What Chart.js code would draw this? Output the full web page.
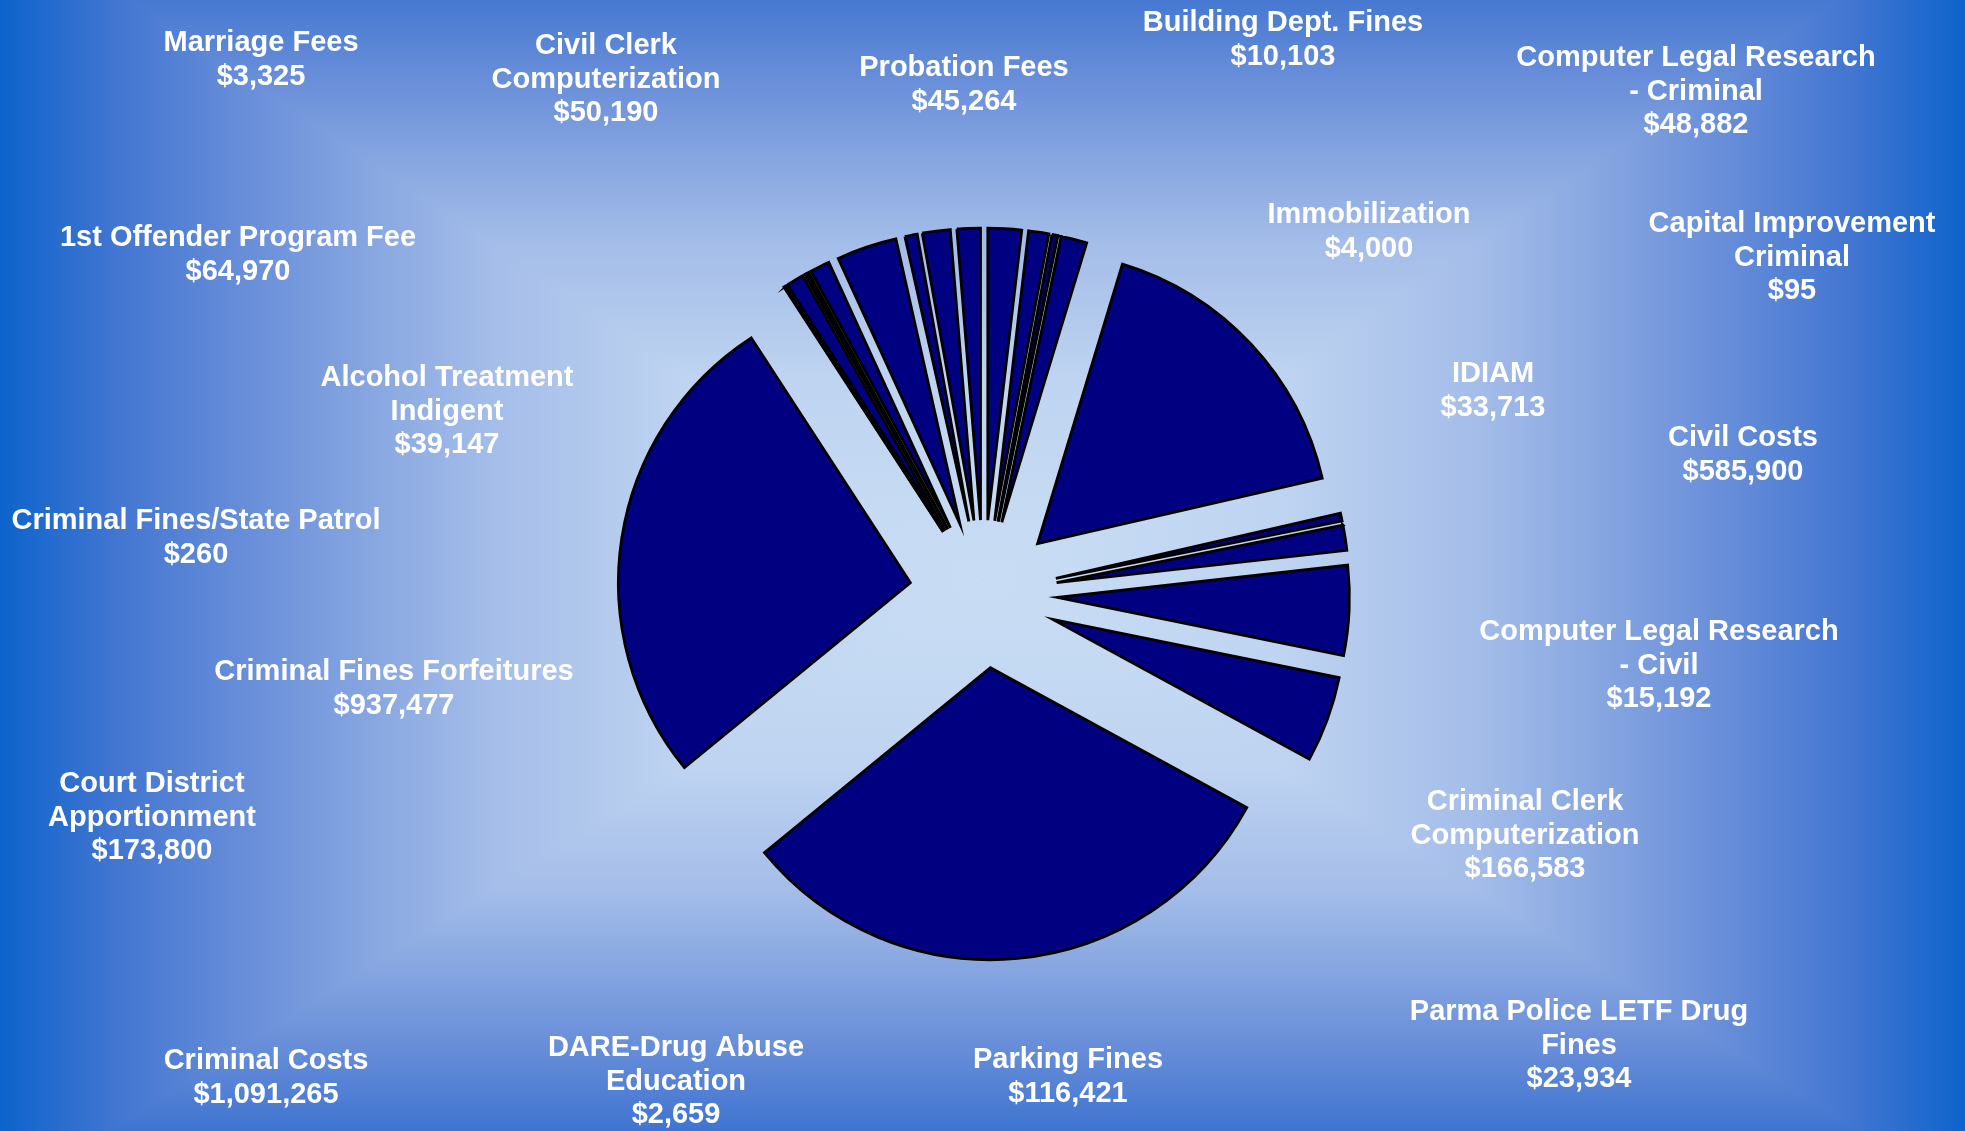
<!DOCTYPE html>
<html>
<head>
<meta charset="utf-8">
<title>Court Revenue by Fund</title>
<script src="https://cdn.jsdelivr.net/npm/chart.js@4.4.1/dist/chart.umd.min.js"></script>
<style>
  html, body { margin: 0; padding: 0; overflow: hidden; background: #1565cc; }
  #wrap { position: relative; width: 1965px; height: 1131px; }
</style>
</head>
<body>
<div id="wrap"><canvas id="revenuePie" width="1965" height="1131"></canvas></div>
<script>
// slice order as it runs clockwise from 12 o'clock
const categories = [
  '1st Offender Program Fee', 'Alcohol Treatment Indigent', 'Building Dept. Fines',
  'Capital Improvement Criminal', 'Civil Clerk Computerization', 'Civil Costs',
  'Computer Legal Research - Civil', 'Computer Legal Research - Criminal',
  'Court District Apportionment', 'Criminal Clerk Computerization', 'Criminal Costs',
  'Criminal Fines Forfeitures', 'Criminal Fines/State Patrol', 'DARE-Drug Abuse Education',
  'IDIAM', 'Immobilization', 'Marriage Fees', '', 'Parking Fines',
  'Parma Police LETF Drug Fines', '', 'Probation Fees'
];
const amounts = [
  64970, 39147, 10103,
  95, 50190, 585900,
  15192, 48882,
  173800, 166583, 1091265,
  937477, 260, 2659,
  33713, 4000, 3325, 38000, 116421,
  23934, 54000, 45264
];
// how each floating label wraps (null = slice carries no label in the picture)
const labelLines = [
  ['1st Offender Program Fee'], ['Alcohol Treatment', 'Indigent'], ['Building Dept. Fines'],
  ['Capital Improvement', 'Criminal'], ['Civil Clerk', 'Computerization'], ['Civil Costs'],
  ['Computer Legal Research', '- Civil'], ['Computer Legal Research', '- Criminal'],
  ['Court District', 'Apportionment'], ['Criminal Clerk', 'Computerization'], ['Criminal Costs'],
  ['Criminal Fines Forfeitures'], ['Criminal Fines/State Patrol'], ['DARE-Drug Abuse', 'Education'],
  ['IDIAM'], ['Immobilization'], ['Marriage Fees'], null, ['Parking Fines'],
  ['Parma Police LETF Drug', 'Fines'], null, ['Probation Fees']
];

// layout: centre x / first line y of every floating label
const labelSpots = [
  [238, 238], [447, 378], [1283, 23],
  [1792, 224], [606, 46], [1743, 438],
  [1659, 632], [1696, 58],
  [152, 784], [1525, 802], [266, 1061],
  [394, 672], [196, 521], [676, 1048],
  [1493, 374], [1369, 215], [261, 43], null, [1068, 1060],
  [1579, 1012], null, [964, 68]
];
const LINE_H = 33.5;
const EXPLODE_PX = 74;

function money(v) {
  return '$' + v.toLocaleString('en-US');
}

// rectangular "from centre" fill behind the whole chart
const backdrop = {
  id: 'backdrop',
  beforeDraw(chart) {
    const ctx = chart.ctx;
    const cx = 984, cy = 580, A = 985, up = 670, down = 620;
    const stops = [
      [0, '#c9ddf4'], [0.3, '#bfd4f1'], [0.5, '#a4bde9'], [0.62, '#88a7e1'],
      [0.75, '#688ed9'], [0.88, '#4276d1'], [1, '#0c63cc']
    ];
    const parts = [
      { pts: [[cx, cy], [cx - A, cy - up], [cx - A, cy + down]], to: [cx - A, cy] },
      { pts: [[cx, cy], [cx + A, cy - up], [cx + A, cy + down]], to: [cx + A, cy] },
      { pts: [[cx, cy], [cx - A, cy - up], [cx + A, cy - up]], to: [cx, cy - up] },
      { pts: [[cx, cy], [cx - A, cy + down], [cx + A, cy + down]], to: [cx, cy + down] }
    ];
    ctx.save();
    ctx.fillStyle = '#0c63cc';
    ctx.fillRect(0, 0, chart.width, chart.height);
    parts.forEach(p => {
      const g = ctx.createLinearGradient(cx, cy, p.to[0], p.to[1]);
      stops.forEach(s => g.addColorStop(s[0], s[1]));
      ctx.beginPath();
      ctx.moveTo(p.pts[0][0], p.pts[0][1]);
      ctx.lineTo(p.pts[1][0], p.pts[1][1]);
      ctx.lineTo(p.pts[2][0], p.pts[2][1]);
      ctx.closePath();
      ctx.fillStyle = g;
      ctx.fill();
      ctx.strokeStyle = g;
      ctx.lineWidth = 1;
      ctx.stroke();
    });
    ctx.restore();
  }
};

// every slice pulled out from the centre by the same distance
const explode = {
  id: 'explode',
  beforeDatasetDraw(chart, args) {
    const ctx = chart.ctx;
    args.meta.data.forEach(arc => {
      const mid = (arc.startAngle + arc.endAngle) / 2;
      ctx.save();
      ctx.translate(Math.cos(mid) * EXPLODE_PX, Math.sin(mid) * EXPLODE_PX);
      arc.draw(ctx);
      ctx.restore();
    });
    return false;
  }
};

const floatingLabels = {
  id: 'floatingLabels',
  afterDraw(chart) {
    const ctx = chart.ctx;
    ctx.save();
    ctx.font = "bold 29px 'Liberation Sans', Arial, sans-serif";
    ctx.fillStyle = '#ffffff';
    ctx.textAlign = 'center';
    ctx.textBaseline = 'middle';
    labelLines.forEach((lines, i) => {
      if (!lines) return;
      const [x, y] = labelSpots[i];
      lines.concat([money(amounts[i])]).forEach((t, k) => {
        ctx.fillText(t, x, y + k * LINE_H);
      });
    });
    ctx.restore();
  }
};

new Chart(document.getElementById('revenuePie'), {
  type: 'pie',
  data: {
    labels: categories,
    datasets: [{
      data: amounts,
      backgroundColor: '#000080',
      borderColor: '#000000',
      borderWidth: 2.8,
      borderJoinStyle: 'miter'
    }]
  },
  options: {
    responsive: false,
    devicePixelRatio: 1,
    animation: false,
    radius: 292,
    layout: { padding: { top: 57, left: 2 } },
    plugins: {
      legend: { display: false },
      tooltip: { enabled: false }
    }
  },
  plugins: [backdrop, explode, floatingLabels]
});
</script>
</body>
</html>
